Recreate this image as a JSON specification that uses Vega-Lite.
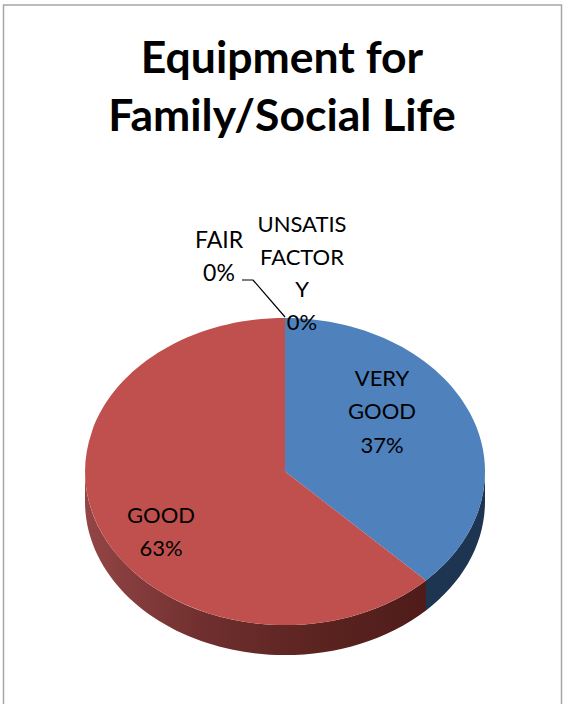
{
"$schema":"https://vega.github.io/schema/vega-lite/v6.json",
"width":574,"height":704,"padding":0,"autosize":"none",
"background":"white",
"config":{"view":{"stroke":null}},
"title":{"text":["Equipment for","Family/Social Life"],"font":"Lato","fontSize":44.5,"fontWeight":"bold","color":"black","anchor":"middle","frame":"group","lineHeight":58,"offset":-140,"dx":-5},
"data":{"values":[
{"category":"VERY GOOD","value":37,"label":"VERY\nGOOD\n37%"},
{"category":"GOOD","value":63,"label":"GOOD\n63%"},
{"category":"FAIR","value":0,"label":"FAIR\n0%"},
{"category":"UNSATISFACTORY","value":0,"label":"UNSATIS\nFACTOR\nY\n0%"}
]},
"layer":[
{"data":{"values":[{"frame":"chart area"}]},
 "mark":{"type":"point","shape":"M -283.5 352 L -283.5 -347 L 274.5 -347 L 274.5 352","size":4,"filled":false,"stroke":"#a6a6a6","strokeWidth":1.5,"opacity":1}},
{"transform":[{"filter":"datum.category==='VERY GOOD'"}],
 "mark":{"type":"point","shape":"M198,119.5 A200,153.5 0 0 1 139,228.4 L139,258.4 A200,153.5 0 0 0 198,149.5 Z","size":4,"filled":true,"opacity":1,"fill":"#1e3552"}},
{"transform":[{"filter":"datum.category==='GOOD'"}],
 "mark":{"type":"point","shape":"M139,228.4 A200,153.5 0 0 1 -202,119.5 L-202,149.5 A200,153.5 0 0 0 139,258.4 Z","size":4,"filled":true,"opacity":1,
 "fill":{"gradient":"linear","x1":0,"y1":0,"x2":1,"y2":0,"stops":[{"offset":0,"color":"#944545"},{"offset":0.35,"color":"#6f2f2e"},{"offset":0.7,"color":"#5a2320"},{"offset":1,"color":"#4f1c19"}]}}},
{"transform":[{"filter":"datum.value>0"}],
 "mark":{"type":"point","filled":true,"opacity":1,"size":4,"strokeWidth":0},
 "encoding":{
  "shape":{"field":"category","type":"nominal","legend":null,"scale":{"domain":["VERY GOOD","GOOD"],"range":["M-2,119.5 L-2,-34 A200,153.5 0 0 1 139,228.4 Z","M-2,119.5 L139,228.4 A200,153.5 0 1 1 -2,-34 Z"]}},
  "color":{"field":"category","type":"nominal","legend":null,"scale":{"domain":["VERY GOOD","GOOD"],"range":["#4f81bd","#c0504d"]}}
 }},
{"data":{"values":[{"leader":"FAIR"}]},
 "mark":{"type":"point","shape":"M-45,-72 L-34,-72 L-2,-35","size":4,"filled":false,"stroke":"black","strokeWidth":1.2,"opacity":1}},
{"transform":[{"filter":"datum.category==='VERY GOOD'"}],
 "mark":{"type":"text","font":"Lato","fontSize":22,"color":"black","lineBreak":"\n","lineHeight":33.5,"dx":95,"dy":26.5},
 "encoding":{"text":{"field":"label"}}},
{"transform":[{"filter":"datum.category==='GOOD'"}],
 "mark":{"type":"text","font":"Lato","fontSize":22,"color":"black","lineBreak":"\n","lineHeight":33,"dx":-126,"dy":163.5},
 "encoding":{"text":{"field":"label"}}},
{"transform":[{"filter":"datum.category==='FAIR'"}],
 "mark":{"type":"text","font":"Lato","fontSize":23,"color":"black","lineBreak":"\n","lineHeight":33,"dx":-68,"dy":-111},
 "encoding":{"text":{"field":"label"}}},
{"transform":[{"filter":"datum.category==='UNSATISFACTORY'"}],
 "mark":{"type":"text","font":"Lato","fontSize":22,"color":"black","lineBreak":"\n","lineHeight":32.7,"dx":15,"dy":-127},
 "encoding":{"text":{"field":"label"}}}
]
}
